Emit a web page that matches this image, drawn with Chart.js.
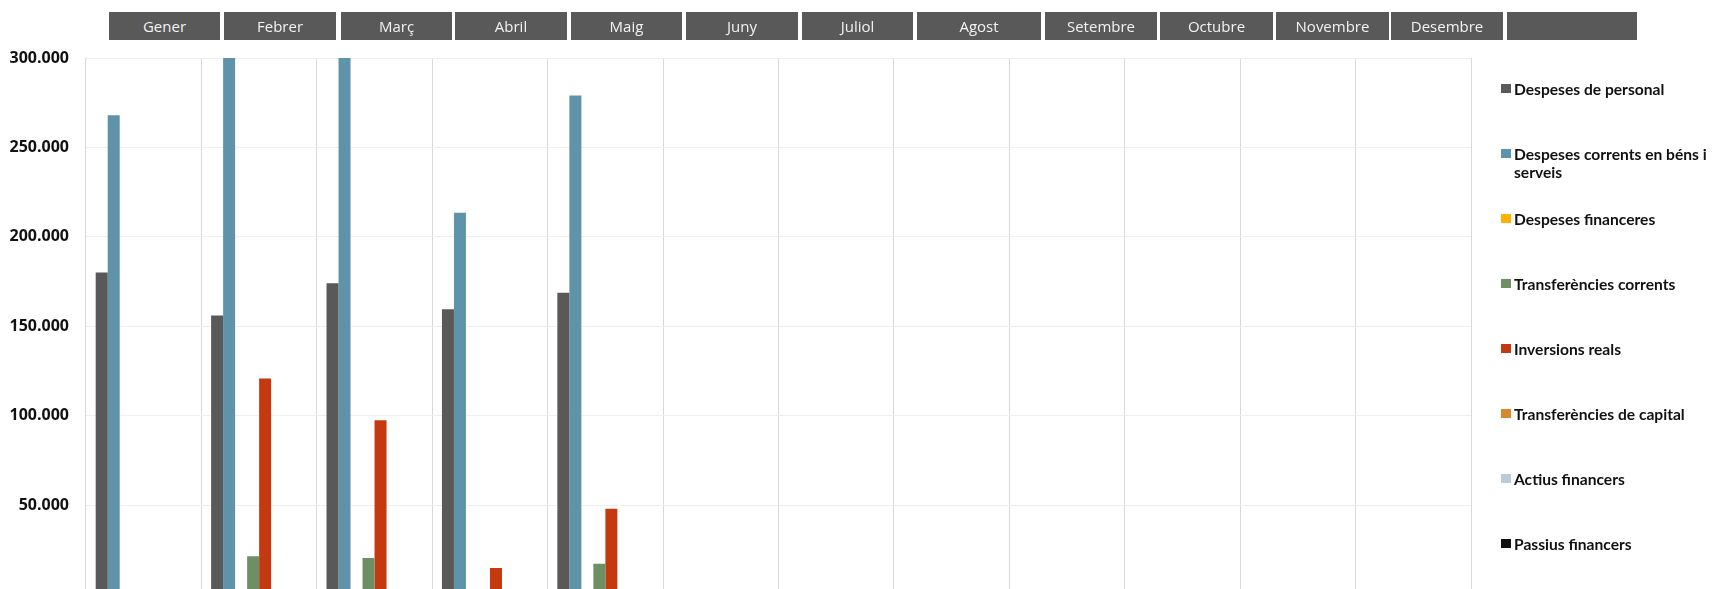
<!DOCTYPE html>
<html lang="ca">
<head>
<meta charset="UTF-8">
<title>Despeses per capítol i mes</title>
<script src="https://cdn.jsdelivr.net/npm/chart.js@4.4.0/dist/chart.umd.min.js"></script>
<style>
    html, body {
        margin: 0;
        padding: 0;
        background: #ffffff;
        overflow: hidden;
    }
    #wrap {
        position: relative;
        width: 1712px;
        height: 621px;
    }
    #chart {
        position: absolute;
        left: 0;
        top: 0;
    }
    .month {
        position: absolute;
        top: 12px;
        height: 28px;
        background: #595959;
        color: #f2f2f2;
        font-family: "Open Sans", sans-serif;
        font-size: 15px;
        line-height: 28px;
        text-align: center;
    }
    #legend {
        position: absolute;
        left: 1501px;
        top: 0;
        width: 211px;
        font-family: Lato, sans-serif;
        font-weight: 700;
        font-size: 15.6px;
        color: #111;
    }
    .item {
        position: absolute;
        left: 0;
        width: 205px;
        line-height: 18px;
        padding-left: 13px;
    }
    .item span.sw {
        position: absolute;
        left: 0;
        top: 4px;
        width: 10px;
        height: 9px;
    }
</style>
</head>
<body>
<div id="wrap">
    <canvas id="chart" width="1712" height="621"></canvas>
    <div id="months"></div>
    <div id="legend"></div>
</div>

<script>
    // categories (months) and the header boxes
    const months = ['Gener', 'Febrer', 'Març', 'Abril', 'Maig', 'Juny', 'Juliol',
        'Agost', 'Setembre', 'Octubre', 'Novembre', 'Desembre', ''];

    const seriesNames = [
        'Despeses de personal',
        'Despeses corrents en béns i serveis',
        'Despeses financeres',
        'Transferències corrents',
        'Inversions reals',
        'Transferències de capital',
        'Actius financers',
        'Passius financers'
    ];
    const seriesColors = ['#595959', '#5f93a9', '#ffb000', '#6e8e64', '#c4390f', '#d48a2a', '#b8cdd8', '#111111'];

    // values per month (Gener..Desembre)
    const personal     = [180000, 156000, 174000, 159500, 168700, null, null, null, null, null, null, null];
    const bensServeis  = [268000, 330000, 325000, 213500, 279000, null, null, null, null, null, null, null];
    const financeres   = [0, 0, 0, 0, 0, null, null, null, null, null, null, null];
    const transfCorr   = [0, 21400, 20300, 0, 17100, null, null, null, null, null, null, null];
    const inversions   = [0, 120700, 97400, 14700, 47900, null, null, null, null, null, null, null];
    const transfCap    = [0, 0, 0, 0, 0, null, null, null, null, null, null, null];
    const actius       = [0, 0, 0, 0, 0, null, null, null, null, null, null, null];
    const passius      = [0, 0, 0, 0, 0, null, null, null, null, null, null, null];
    const seriesValues = [personal, bensServeis, financeres, transfCorr, inversions, transfCap, actius, passius];

    const yTicks = [0, 50000, 100000, 150000, 200000, 250000, 300000];

    // header boxes (layout only)
    const boxLeft  = [109, 224, 341, 455, 571, 686, 802, 917, 1045, 1160, 1276, 1391, 1507];
    const boxWidth = [111, 112, 111, 112, 111, 112, 111, 124, 112, 113, 113, 112, 130];
    const monthsDiv = document.getElementById('months');
    months.forEach(function (m, i) {
        const d = document.createElement('div');
        d.className = 'month';
        d.style.left = boxLeft[i] + 'px';
        d.style.width = boxWidth[i] + 'px';
        d.textContent = m;
        monthsDiv.appendChild(d);
    });

    // legend
    const legendDiv = document.getElementById('legend');
    seriesNames.forEach(function (name, i) {
        const it = document.createElement('div');
        it.className = 'item';
        it.style.top = (80 + 65 * i) + 'px';
        const sw = document.createElement('span');
        sw.className = 'sw';
        sw.style.background = seriesColors[i];
        it.appendChild(sw);
        it.appendChild(document.createTextNode(name));
        legendDiv.appendChild(it);
    });

    function fmt(v) {
        return v.toString().replace(/\B(?=(\d{3})+(?!\d))/g, '.');
    }

    const datasets = seriesNames.map(function (name, i) {
        return {
            label: name,
            data: seriesValues[i],
            backgroundColor: seriesColors[i],
            borderWidth: 0,
            clip: 0
        };
    });

    const ctx = document.getElementById('chart').getContext('2d');
    const chart = new Chart(ctx, {
        type: 'bar',
        data: {
            labels: months.slice(0, 12),
            datasets: datasets
        },
        options: {
            responsive: false,
            animation: false,
            layout: {
                padding: { left: 0, right: 241, top: 58, bottom: 8 }
            },
            datasets: {
                bar: {
                    categoryPercentage: 0.832,
                    barPercentage: 1
                }
            },
            plugins: {
                legend: { display: false },
                tooltip: { enabled: false }
            },
            scales: {
                x: {
                    grid: {
                        offset: true,
                        color: '#d9d9d9',
                        lineWidth: 1,
                        drawTicks: false
                    },
                    border: { display: false },
                    ticks: { display: false },
                    afterFit: function (s) { s.height = 0; }
                },
                y: {
                    min: 0,
                    max: 300000,
                    afterBuildTicks: function (s) {
                        s.ticks = yTicks.map(function (v) { return { value: v }; });
                    },
                    grid: {
                        color: '#efefef',
                        lineWidth: 1,
                        drawTicks: false
                    },
                    border: { display: false },
                    ticks: {
                        padding: 17,
                        color: '#111',
                        font: { family: 'Open Sans', weight: 'bold', size: 16 },
                        callback: function (v) { return v === 0 ? '' : fmt(v); }
                    },
                    afterFit: function (s) { s.width = 86; }
                }
            }
        }
    });
</script>
</body>
</html>
